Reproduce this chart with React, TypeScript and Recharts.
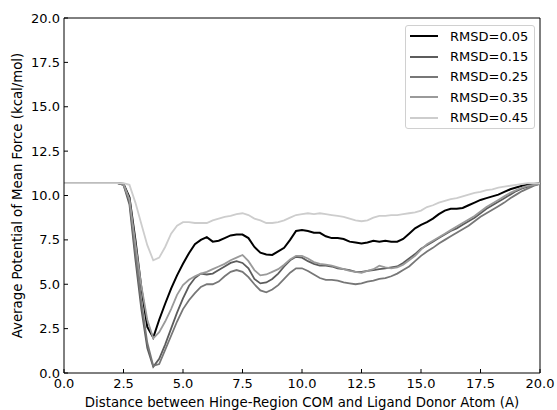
import { LineChart, Line, XAxis, YAxis, ReferenceLine } from "recharts";

// x positions (A), one every 0.25
const distance = [
  0, 0.25, 0.5, 0.75, 1, 1.25, 1.5, 1.75, 2, 2.25,
  2.5, 2.75, 3, 3.25, 3.5, 3.75, 4, 4.25, 4.5, 4.75,
  5, 5.25, 5.5, 5.75, 6, 6.25, 6.5, 6.75, 7, 7.25,
  7.5, 7.75, 8, 8.25, 8.5, 8.75, 9, 9.25, 9.5, 9.75,
  10, 10.25, 10.5, 10.75, 11, 11.25, 11.5, 11.75, 12, 12.25,
  12.5, 12.75, 13, 13.25, 13.5, 13.75, 14, 14.25, 14.5, 14.75,
  15, 15.25, 15.5, 15.75, 16, 16.25, 16.5, 16.75, 17, 17.25,
  17.5, 17.75, 18, 18.25, 18.5, 18.75, 19, 19.25, 19.5, 19.75,
  20,
];

const rmsd005 = [
  10.7, 10.7, 10.7, 10.7, 10.7, 10.7, 10.7, 10.7, 10.7, 10.7,
  10.65, 9.9, 7.5, 4.8, 2.6, 2.0, 3.0, 3.9, 4.75, 5.5,
  6.15, 6.75, 7.25, 7.5, 7.65, 7.4, 7.45, 7.6, 7.75, 7.8,
  7.8, 7.6, 7.1, 6.78, 6.68, 6.65, 6.85, 7.05, 7.5, 8.0,
  8.05, 8.0, 7.9, 7.9, 7.7, 7.6, 7.6, 7.55, 7.4, 7.35,
  7.3, 7.35, 7.45, 7.4, 7.45, 7.4, 7.4, 7.55, 7.85, 8.15,
  8.35, 8.5, 8.7, 8.95, 9.15, 9.25, 9.25, 9.3, 9.45, 9.6,
  9.75, 9.85, 9.95, 10.05, 10.2, 10.35, 10.45, 10.55, 10.6, 10.65,
  10.7,
];

const rmsd015 = [
  10.7, 10.7, 10.7, 10.7, 10.7, 10.7, 10.7, 10.7, 10.7, 10.7,
  10.6, 9.5, 6.4, 3.6, 1.4, 0.35, 0.8, 1.6, 2.5, 3.4,
  4.2, 4.9, 5.35, 5.6, 5.55, 5.6, 5.8, 6.0, 6.2, 6.3,
  6.2, 5.9, 5.3, 5.05, 5.1, 5.3, 5.6, 6.0, 6.35, 6.55,
  6.5, 6.3, 6.15, 6.05, 6.05, 6.0, 5.9, 5.85, 5.8, 5.7,
  5.7, 5.75, 5.8, 5.85, 5.9, 5.95, 6.0, 6.2, 6.45, 6.7,
  7.0, 7.2, 7.4, 7.6, 7.8, 8.0, 8.15, 8.35, 8.55, 8.75,
  9.0, 9.25, 9.45, 9.65, 9.85, 10.05, 10.25, 10.4, 10.5, 10.6,
  10.65,
];

const rmsd025 = [
  10.7, 10.7, 10.7, 10.7, 10.7, 10.7, 10.7, 10.7, 10.7, 10.7,
  10.6, 9.7, 6.8, 4.0, 1.7, 0.4, 0.5, 1.3, 2.1, 2.9,
  3.6, 4.1, 4.5, 4.85, 5.0, 5.0, 5.15, 5.45, 5.7, 5.8,
  5.7, 5.4, 5.0, 4.65, 4.55, 4.7, 4.95, 5.3, 5.65, 5.9,
  5.9, 5.75, 5.55, 5.35, 5.25, 5.25, 5.2, 5.1, 5.05, 5.0,
  5.05, 5.15, 5.2, 5.3, 5.35, 5.45, 5.6, 5.8, 6.0, 6.3,
  6.6, 6.85, 7.05, 7.3, 7.5, 7.7, 7.9, 8.1, 8.3, 8.55,
  8.8, 9.0, 9.2, 9.4, 9.6, 9.85, 10.05, 10.25, 10.4, 10.55,
  10.65,
];

const rmsd035 = [
  10.7, 10.7, 10.7, 10.7, 10.7, 10.7, 10.7, 10.7, 10.7, 10.7,
  10.65, 9.8, 7.3, 4.9, 3.0, 1.95, 2.3, 2.9, 3.6, 4.4,
  4.95, 5.25, 5.45, 5.6, 5.7, 5.85, 6.0, 6.15, 6.35, 6.5,
  6.65, 6.3, 5.8, 5.5, 5.55, 5.7, 5.85, 6.1, 6.4, 6.6,
  6.6, 6.45, 6.25, 6.15, 6.1, 6.05, 5.95, 5.85, 5.75, 5.7,
  5.65, 5.75, 5.85, 6.05, 5.95, 5.9, 5.95, 6.1, 6.35, 6.6,
  6.95, 7.25, 7.45, 7.65, 7.85, 8.05, 8.25, 8.45, 8.65, 8.85,
  9.1, 9.35, 9.55, 9.75, 9.95, 10.15, 10.3, 10.45, 10.55, 10.6,
  10.65,
];

const rmsd045 = [
  10.7, 10.7, 10.7, 10.7, 10.7, 10.7, 10.7, 10.7, 10.7, 10.7,
  10.7, 10.6, 9.6, 8.4, 7.2, 6.35, 6.5, 7.1, 7.85, 8.3,
  8.5, 8.5, 8.45, 8.45, 8.45, 8.6, 8.7, 8.8, 8.85, 8.95,
  9.0, 8.9, 8.7, 8.6, 8.45, 8.45, 8.5, 8.6, 8.75, 8.9,
  8.95, 9.0, 8.95, 9.0, 8.95, 8.9, 8.85, 8.8, 8.7, 8.6,
  8.55, 8.6, 8.75, 8.85, 8.85, 8.9, 8.9, 8.95, 9.0, 9.05,
  9.15, 9.35, 9.45, 9.6, 9.7, 9.8, 9.85, 9.95, 10.05, 10.15,
  10.2, 10.3, 10.35, 10.45, 10.5, 10.55, 10.6, 10.65, 10.7, 10.7,
  10.7,
];

const seriesNames = ["RMSD=0.05", "RMSD=0.15", "RMSD=0.25", "RMSD=0.35", "RMSD=0.45"];
const seriesColors = ["#000000", "#5c5c5c", "#777777", "#9a9a9a", "#cdcdcd"];
const seriesValues = [rmsd005, rmsd015, rmsd025, rmsd035, rmsd045];

const xTicks = [0, 2.5, 5, 7.5, 10, 12.5, 15, 17.5, 20];
const yTicks = [0, 2.5, 5, 7.5, 10, 12.5, 15, 17.5, 20];

const data = distance.map((d, i) => {
  const row: Record<string, number> = { d };
  seriesValues.forEach((s, k) => (row["s" + k] = s[i]));
  return row;
});

const font = "'DejaVu Sans', sans-serif";
const tickStyle = { fill: "#000", fontSize: 13, fontFamily: font };
const labelStyle = { fill: "#000", fontSize: 13.3, fontFamily: font };

// legend sits on top of the plot, outside recharts' layout so it takes no space
const LegendBox = () => (
  <div
    style={{
      position: "absolute",
      left: 405,
      top: 25,
      border: "1px solid #d0d0d0",
      borderRadius: 3,
      background: "rgba(255,255,255,0.85)",
      padding: "0 6px 0 4px",
      fontFamily: font,
      fontSize: 13,
      color: "#000",
    }}
  >
    {seriesNames.map((n, k) => (
      <div key={n} style={{ display: "flex", alignItems: "center", height: 20.4 }}>
        <svg width={28} height={4}>
          <line x1={0} y1={2} x2={28} y2={2} stroke={seriesColors[k]} strokeWidth={2} />
        </svg>
        <span style={{ marginLeft: 12 }}>{n}</span>
      </div>
    ))}
  </div>
);

export default function App() {
  return (
    <div style={{ position: "absolute", left: 0, top: 0, width: 557, height: 410, background: "#fff" }}>
      <LineChart width={557} height={410} data={data} margin={{ top: 18, right: 17, left: 0, bottom: 0 }}>
        <XAxis
          dataKey="d"
          type="number"
          domain={[0, 20]}
          ticks={xTicks}
          interval={0}
          tickFormatter={(v: number) => v.toFixed(1)}
          height={37}
          tick={tickStyle}
          tickSize={-4}
          tickMargin={10}
          axisLine={{ stroke: "#000" }}
          tickLine={{ stroke: "#000" }}
          label={{
            value: "Distance between Hinge-Region COM and Ligand Donor Atom (A)",
            position: "insideBottom",
            offset: 3,
            style: labelStyle,
          }}
        />
        <YAxis
          type="number"
          domain={[0, 20]}
          ticks={yTicks}
          interval={0}
          tickFormatter={(v: number) => v.toFixed(1)}
          width={64}
          tick={tickStyle}
          tickSize={-4}
          tickMargin={8}
          axisLine={{ stroke: "#000" }}
          tickLine={{ stroke: "#000" }}
          label={{
            value: "Average Potential of Mean Force (kcal/mol)",
            angle: -90,
            position: "insideLeft",
            offset: 17,
            style: { ...labelStyle, textAnchor: "middle" },
          }}
        />
        <ReferenceLine y={20} stroke="#000" />
        <ReferenceLine x={20} stroke="#000" />
        {seriesNames.map((n, k) => (
          <Line
            key={n}
            type="linear"
            dataKey={"s" + k}
            name={n}
            stroke={seriesColors[k]}
            strokeWidth={k === 0 ? 2 : 1.8}
            dot={false}
            isAnimationActive={false}
          />
        ))}
      </LineChart>
      <LegendBox />
    </div>
  );
}
